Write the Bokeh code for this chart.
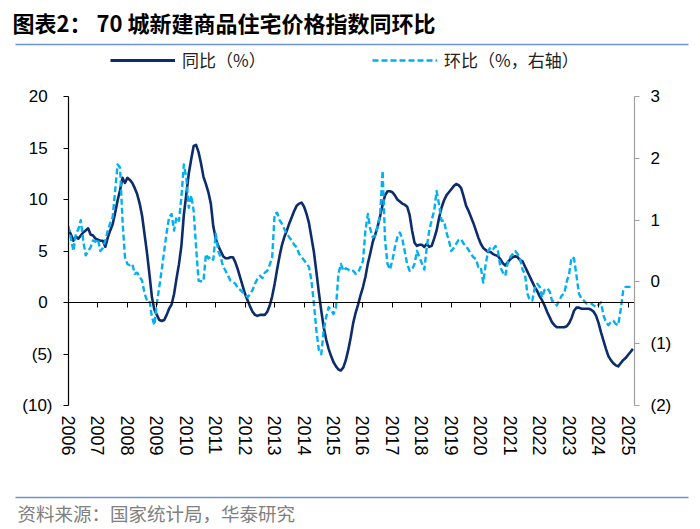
import numpy as np
from bokeh.plotting import figure
from bokeh.layouts import column
from bokeh.models import (Range1d, LinearAxis, FixedTicker, CustomJSTickFormatter,
                          Legend, LegendItem, ColumnDataSource)
from bokeh.core.properties import value
from bokeh.embed import file_html
from bokeh.resources import INLINE

# ---------------- data ----------------
start_year = 2006
year_ticks = list(range(2006, 2026))
year_labels = [str(y) for y in year_ticks]

left_ticks = [-10, -5, 0, 5, 10, 15, 20]
right_ticks = [-2, -1, 0, 1, 2, 3]

# 同比 (%), monthly from 2006-01
yoy = [
    7.1, 6.6, 6.0, 6.4, 6.2, 6.5, 6.8, 7.0, 7.2, 6.6, 6.5, 6.2,          # 2006
    6.1, 6.0, 6.0, 5.4, 6.3, 7.0, 7.6, 8.7, 9.9, 10.9, 12.1, 11.6,       # 2007
    12.1, 11.9, 11.6, 11.1, 10.5, 9.6, 8.4, 6.6, 4.8, 2.7, 0.5, -0.7,    # 2008
    -1.2, -1.7, -1.8, -1.7, -1.2, -0.6, -0.2, 0.8, 2.3, 3.7, 5.5, 8.5,   # 2009
    10.5, 12.5, 13.9, 15.2, 15.3, 14.6, 13.5, 12.2, 11.5, 10.7, 9.6, 7.4,  # 2010
    6.2, 5.5, 5.0, 4.5, 4.3, 4.3, 4.4, 4.4, 3.9, 3.2, 2.4, 1.6,          # 2011
    0.8, 0.2, -0.4, -0.9, -1.2, -1.3, -1.2, -1.2, -1.2, -0.9, -0.3, 0.6, # 2012
    1.8, 3.2, 4.5, 5.6, 6.4, 7.0, 7.7, 8.3, 8.9, 9.4, 9.6, 9.7,          # 2013
    9.3, 8.6, 7.7, 6.3, 4.9, 3.0, 1.0, -0.8, -2.4, -3.6, -4.5, -5.2,     # 2014
    -5.8, -6.2, -6.5, -6.6, -6.3, -5.6, -4.6, -3.4, -2.0, -1.0, -0.2, 0.7,  # 2015
    1.5, 2.5, 3.8, 4.8, 5.9, 6.6, 7.4, 8.4, 9.5, 10.4, 10.8, 10.8,       # 2016
    10.7, 10.4, 10.0, 9.8, 9.6, 9.5, 9.3, 8.5, 7.0, 5.8, 5.5, 5.6,       # 2017
    5.6, 5.4, 5.7, 5.4, 5.5, 6.2, 7.0, 8.2, 9.2, 9.9, 10.4, 10.7,        # 2018
    11.0, 11.3, 11.5, 11.4, 11.1, 10.3, 9.4, 8.9, 8.3, 7.7, 7.0, 6.3,    # 2019
    5.7, 5.3, 5.1, 4.9, 4.9, 4.7, 4.6, 4.5, 4.2, 3.8, 3.6, 3.9,          # 2020
    4.2, 4.4, 4.5, 4.4, 4.1, 4.0, 3.5, 3.0, 2.5, 2.0, 1.5, 1.1,          # 2021
    0.6, 0.2, -0.3, -0.9, -1.4, -1.9, -2.2, -2.4, -2.4, -2.4, -2.4, -2.3,  # 2022
    -2.0, -1.5, -0.8, -0.5, -0.5, -0.6, -0.6, -0.6, -0.6, -0.7, -0.9, -1.3,  # 2023
    -2.0, -2.9, -3.7, -4.5, -5.2, -5.6, -5.9, -6.1, -6.2, -5.9, -5.6, -5.4,  # 2024
    -5.1, -4.8, -4.5,                                                    # 2025
]

# 环比 (%, 右轴), monthly from 2006-01
mom = [
    0.9, 0.7, 0.5, 0.78, 0.85, 1.0, 0.67, 0.43, 0.5, 0.56, 0.67, 0.65,     # 2006
    0.69, 0.5, 0.55, 0.67, 0.83, 0.95, 1.05, 1.47, 1.9, 1.85, 1.0, 0.4,    # 2007
    0.29, 0.27, 0.29, 0.13, 0.15, 0.08, 0.02, -0.19, -0.3, -0.3, -0.57, -0.7,  # 2008
    -0.35, -0.08, 0.2, 0.5, 0.8, 1.05, 1.1, 0.83, 1.05, 0.99, 1.37, 1.9,   # 2009
    1.69, 1.2, 1.4, 1.15, 0.56, 0.02, 0.01, 0.01, 0.45, 0.38, 0.41, 0.36,  # 2010
    0.78, 0.5, 0.4, 0.25, 0.18, 0.1, 0.02, 0.0, -0.03, -0.1, -0.13, -0.17, # 2011
    -0.2, -0.25, -0.2, -0.13, -0.03, 0.05, 0.1, 0.06, 0.15, 0.18, 0.28, 0.4,  # 2012
    1.1, 1.12, 1.0, 0.94, 0.85, 0.78, 0.72, 0.67, 0.6, 0.56, 0.45, 0.4,    # 2013
    0.35, 0.3, 0.24, 0.02, -0.35, -0.78, -1.1, -1.17, -0.78, -0.57, -0.41, -0.45,  # 2014
    -0.52, -0.41, 0.13, 0.29, 0.18, 0.22, 0.2, 0.17, 0.18, 0.13, 0.15, 0.24,  # 2015
    0.34, 0.83, 1.1, 0.85, 0.72, 0.75, 0.9, 1.1, 1.8, 0.67, 0.29, 0.2,     # 2016
    0.35, 0.56, 0.72, 0.8, 0.7, 0.5, 0.29, 0.18, 0.2, 0.29, 0.5, 0.4,      # 2017
    0.3, 0.2, 0.56, 0.83, 1.0, 1.15, 1.47, 1.25, 0.99, 0.99, 0.8, 0.67,    # 2018
    0.5, 0.55, 0.62, 0.68, 0.69, 0.62, 0.58, 0.52, 0.45, 0.4, 0.37, 0.24,  # 2019
    0.24, -0.01, 0.29, 0.5, 0.56, 0.53, 0.58, 0.5, 0.24, 0.15, 0.1, 0.32,  # 2020
    0.4, 0.45, 0.5, 0.45, 0.37, 0.2, 0.13, -0.19, -0.3, -0.3, -0.1, -0.03, # 2021
    -0.08, -0.25, -0.13, -0.1, -0.15, -0.3, -0.33, -0.38, -0.3, -0.22, -0.19, 0.0,  # 2022
    0.13, 0.4, 0.38, 0.1, -0.19, -0.27, -0.3, -0.35, -0.35, -0.35, -0.38, -0.41,  # 2023
    -0.37, -0.33, -0.54, -0.65, -0.7, -0.65, -0.63, -0.68, -0.7, -0.45, -0.15, -0.08,  # 2024
    -0.08, -0.08, -0.08,                                                   # 2025
]

title_text = "图表2：  70 城新建商品住宅价格指数同环比"
source_text = "资料来源：国家统计局，华泰研究"
yoy_label = "同比（%）"
mom_label = "环比（%，右轴）"

# ---------------- styling ----------------
NAVY = "#0C2C6B"
CYAN = "#00B0F0"
RULE = "#6B93CC"
CJK = "Noto Sans CJK SC"
LAT = "Liberation Sans"
W = 700


def blank_fig(h):
    f = figure(width=W, height=h, output_backend="svg", toolbar_location=None,
               x_range=Range1d(0, W), y_range=Range1d(h, 0),
               x_axis_location=None, y_axis_location=None,
               min_border=0, min_border_left=0, min_border_right=0,
               min_border_top=0, min_border_bottom=0, frame_align=False)
    f.outline_line_color = None
    f.xgrid.visible = False
    f.ygrid.visible = False
    f.background_fill_color = "white"
    f.border_fill_color = "white"
    return f


# ---------------- header: title, rule, legend ----------------
HDR_H = 80
hdr = blank_fig(HDR_H)
hdr.text(x=[12], y=[21], text=[title_text], text_font=value(CJK),
         text_font_style="bold", text_font_size="22px", text_baseline="middle",
         text_color="black")
hdr.segment(x0=[15], y0=[44], x1=[688], y1=[44], line_color=RULE, line_width=1.6)

# legend sample renderers (no visible points)
s1 = hdr.line(x=[np.nan], y=[np.nan], color=NAVY, line_width=2.8)
s2 = hdr.line(x=[np.nan], y=[np.nan], color=CYAN, line_width=2.6, line_dash="6 3")


def make_legend(item_label, rend, x):
    lg = Legend(items=[LegendItem(label=item_label, renderers=[rend])],
                location=(x, HDR_H - 72), orientation="horizontal",
                glyph_width=65, glyph_height=20, label_standoff=7,
                padding=0, margin=0, border_line_color=None,
                background_fill_alpha=0.0)
    lg.label_text_font = CJK
    lg.label_text_font_size = "17px"
    lg.label_text_color = "#222222"
    return lg


hdr.add_layout(make_legend(yoy_label, s1, 110))
hdr.add_layout(make_legend(mom_label, s2, 372))

# ---------------- main chart ----------------
MAIN_H = 400
t = start_year + np.arange(len(yoy)) / 12.0
src = ColumnDataSource(dict(t=t, yoy=yoy, mom=mom))

p = figure(width=W, height=MAIN_H, output_backend="svg", toolbar_location=None,
           x_range=Range1d(2006, 2025.22), y_range=Range1d(-10, 20),
           min_border_left=68, min_border_right=66, min_border_top=16,
           min_border_bottom=MAIN_H - 16 - 309, frame_align=False)
p.extra_y_ranges = {"right": Range1d(-2, 3)}
p.outline_line_color = None
p.xgrid.visible = False
p.ygrid.visible = False
p.background_fill_color = "white"
p.border_fill_color = "white"

neg_fmt = CustomJSTickFormatter(code="""
    if (tick < 0) { return '(' + Math.abs(tick) + ')'; }
    return tick.toString() + '\u2008';
""")
neg_fmt_r = CustomJSTickFormatter(code="""
    if (tick < 0) { return '(' + Math.abs(tick) + ')'; }
    return tick.toString();
""")

# bottom axis: year labels only
xa = p.xaxis[0]
xa.ticker = FixedTicker(ticks=year_ticks)
xa.major_label_overrides = {y: s for y, s in zip(year_ticks, year_labels)}
xa.major_label_orientation = "vertical"
xa.axis_line_color = None
xa.major_tick_line_color = None
xa.minor_tick_line_color = None
xa.major_label_standoff = 4
xa.major_label_text_font = LAT
xa.major_label_text_font_size = "18px"
xa.major_label_text_color = "black"

# zero line with year ticks
za = LinearAxis(fixed_location=0, ticker=FixedTicker(ticks=year_ticks),
                formatter=CustomJSTickFormatter(code="return '';"))
za.axis_line_color = "black"
za.axis_line_width = 1.2
za.major_tick_line_color = "black"
za.major_tick_in = 0
za.major_tick_out = 5
za.minor_tick_line_color = None
za.major_label_text_font_size = "1px"
p.add_layout(za, "below")

# left axis
ya = p.yaxis[0]
ya.ticker = FixedTicker(ticks=left_ticks)
ya.formatter = neg_fmt
ya.axis_line_color = "black"
ya.axis_line_width = 1.2
ya.major_tick_line_color = "black"
ya.major_tick_in = 0
ya.major_tick_out = 5
ya.minor_tick_line_color = None
ya.major_label_standoff = 11
ya.major_label_text_font = LAT
ya.major_label_text_font_size = "17px"
ya.major_label_text_color = "black"

# right axis
ra = LinearAxis(y_range_name="right", ticker=FixedTicker(ticks=right_ticks),
                formatter=neg_fmt_r)
ra.axis_line_color = "#A0A0A0"
ra.axis_line_width = 1.2
ra.major_tick_line_color = "#A0A0A0"
ra.major_tick_in = 0
ra.major_tick_out = 5
ra.minor_tick_line_color = None
ra.major_label_standoff = 11
ra.major_label_text_font = LAT
ra.major_label_text_font_size = "17px"
ra.major_label_text_color = "black"
p.add_layout(ra, "right")

p.line("t", "yoy", source=src, color=NAVY, line_width=2.6, line_join="round")
p.line("t", "mom", source=src, y_range_name="right", color=CYAN,
       line_width=2.4, line_dash="6 3", line_join="round")

# ---------------- footer: rule and source ----------------
FTR_H = 529 - HDR_H - MAIN_H
ftr = blank_fig(FTR_H)
ftr.segment(x0=[15], y0=[17], x1=[688], y1=[17], line_color=RULE, line_width=1.6)
ftr.text(x=[17], y=[32], text=[source_text], text_font=value(CJK),
         text_font_size="18.5px", text_baseline="middle", text_color="#808080")

layout = column(hdr, p, ftr, spacing=0)
open("out.html", "w").write(file_html(layout, INLINE))
